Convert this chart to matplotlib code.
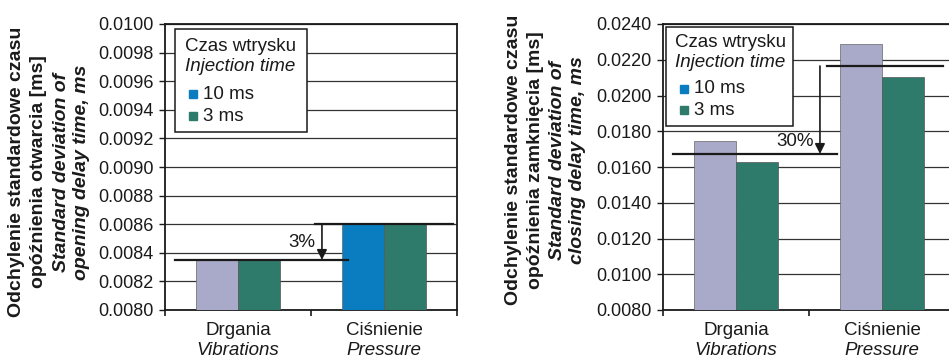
import matplotlib
matplotlib.use("Agg")
import matplotlib.pyplot as plt
from matplotlib.patches import Rectangle
import numpy as np

plt.rcParams['font.family'] = ['Liberation Sans', 'DejaVu Sans']

# categories and series
cat_pl = ["Drgania", "Ciśnienie"]
cat_en = ["Vibrations", "Pressure"]
series_labels = ["10 ms", "3 ms"]

# opening delay std. dev. [ms] : (10 ms, 3 ms) per category
open_10ms = [0.00835, 0.00860]
open_3ms = [0.00835, 0.00860]
# closing delay std. dev. [ms]
close_10ms = [0.01745, 0.02288]
close_3ms = [0.01628, 0.02104]

# reference levels for the reduction arrows
open_levels = [0.00835, 0.00860]
open_pct = "3%"
close_levels = [0.01673, 0.02165]
close_pct = "30%"

open_ticks = np.arange(0.0080, 0.01001, 0.0002)
close_ticks = np.arange(0.0080, 0.02401, 0.0020)

ylab_open = ["Odchylenie standardowe czasu", "opóźnienia otwarcia [ms]",
             "Standard deviation of", "opening delay time, ms"]
ylab_close = ["Odchylenie standardowe czasu", "opóźnienia zamknięcia [ms]",
              "Standard deviation of", "closing delay time, ms"]

BLUE = "#0A7DC0"
GREEN = "#2E7B6C"
LAV = "#A9A9C9"
INK = "#1a1a1a"

fig = plt.figure(figsize=(9.49, 3.58), dpi=100)
W, H = 949, 358


def px_axes(x0, x1, ytop, ybot):
    return fig.add_axes([x0 / W, (H - ybot) / H, (x1 - x0) / W, (ybot - ytop) / H])


def draw_panel(ax, v10, v3, colors10, ticks, fmt, levels, pct, pct_xy,
               low_span, high_span, arrow_x, legend_box):
    x = np.arange(len(cat_pl))
    w = 0.29
    ax.bar(x - w / 2, v10, w, color=colors10, edgecolor="#666", lw=0.5, zorder=3)
    ax.bar(x + w / 2, v3, w, color=GREEN, edgecolor="#555", lw=0.5, zorder=3)

    ax.set_xlim(-0.5, 1.5)
    ax.set_ylim(ticks[0], ticks[-1])
    ax.set_yticks(ticks)
    ax.set_yticklabels([fmt.format(t) for t in ticks], fontsize=13, color=INK)
    ax.tick_params(axis="y", direction="out", length=4, width=1, pad=4, colors=INK)
    ax.yaxis.grid(True, color="#333", lw=0.9, zorder=1)
    ax.set_axisbelow(True)

    ax.set_xticks([-0.5, 0.5, 1.5])
    ax.set_xticklabels([])
    ax.tick_params(axis="x", direction="out", length=4, width=1.2, colors=INK)
    for s in ax.spines.values():
        s.set_color(INK)
        s.set_linewidth(1.3)

    for i in x:
        ax.text(i, -0.073, cat_pl[i], transform=ax.get_xaxis_transform(),
                ha="center", va="center", fontsize=13.5, color=INK)
        ax.text(i, -0.14, cat_en[i], transform=ax.get_xaxis_transform(),
                ha="center", va="center", fontsize=13.5, color=INK, style="italic")

    # reduction marker
    ax.plot(low_span, [levels[0]] * 2, color=INK, lw=1.6, zorder=4, clip_on=False)
    ax.plot(high_span, [levels[1]] * 2, color=INK, lw=1.6, zorder=4, clip_on=False)
    ax.annotate("", xy=(arrow_x, levels[0]), xytext=(arrow_x, levels[1]),
                arrowprops=dict(arrowstyle="-|>", color=INK, lw=1.2,
                                mutation_scale=15, shrinkA=0, shrinkB=0),
                zorder=5)
    ax.text(pct_xy[0], pct_xy[1], pct, ha="right", va="center",
            fontsize=13.5, color=INK, zorder=5)

    # legend box
    bx0, bx1, by0, by1, tx, mx, ty = legend_box
    ax.add_patch(Rectangle((bx0, by0), bx1 - bx0, by1 - by0, transform=ax.transAxes,
                           facecolor="white", edgecolor=INK, lw=1.1, zorder=6))
    ax.text(tx, ty[0], "Czas wtrysku", transform=ax.transAxes, fontsize=13.5,
            va="center", ha="left", color=INK, zorder=7)
    ax.text(tx, ty[1], "Injection time", transform=ax.transAxes, fontsize=13.5,
            va="center", ha="left", color=INK, style="italic", zorder=7)
    for lab, col, yy in zip(series_labels, [BLUE, GREEN], ty[2:]):
        ax.plot([mx], [yy], "s", ms=5.5, color=col, transform=ax.transAxes,
                zorder=7, clip_on=False)
        ax.text(mx + 0.035, yy, lab, transform=ax.transAxes, fontsize=13.5,
                va="center", ha="left", color=INK, zorder=7)


ax1 = px_axes(165, 457, 24, 310)
draw_panel(ax1, open_10ms, open_3ms, [LAV, BLUE], open_ticks, "{:.4f}",
           open_levels, open_pct, (0.53, 0.00847),
           [-0.43, 0.75], [0.53, 1.47], 0.575,
           (0.034, 0.486, 0.622, 0.983, 0.068, 0.096, [0.923, 0.850, 0.755, 0.678]))

ax2 = px_axes(663, 955, 24, 310)
draw_panel(ax2, close_10ms, close_3ms, [LAV, LAV], close_ticks, "{:.4f}",
           close_levels, close_pct, (0.535, 0.0174),
           [-0.43, 0.69], [0.62, 1.42], 0.575,
           (0.010, 0.445, 0.643, 0.99, 0.041, 0.072, [0.934, 0.864, 0.773, 0.699]))

# stacked y-axis titles, Polish upright and English italic
for xs, yc, lines in [([17, 39, 61, 82], 172, ylab_open),
                      ([513, 535, 557, 578], 160, ylab_close)]:
    for k, (xp, txt) in enumerate(zip(xs, lines)):
        fig.text(xp / W, (H - yc) / H, txt, rotation=90, ha="center", va="center",
                 fontsize=14, fontweight="bold", color=INK,
                 style="italic" if k >= 2 else "normal")

fig.savefig("out.png", dpi=100)
